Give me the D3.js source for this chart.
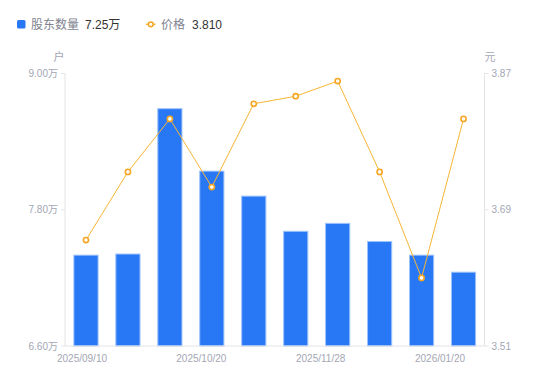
<!DOCTYPE html>
<html><head><meta charset="utf-8">
<script src="https://cdn.jsdelivr.net/npm/d3@7"></script>
<style>
body{margin:0;background:#fff;font-family:"Liberation Sans","Noto Sans CJK SC",Arial,sans-serif;}
svg{display:block;}
</style></head>
<body><svg id="c" width="550" height="381"></svg>
<script>
const categories = ["2025/09/10","2025/09/22","2025/09/30","2025/10/20","2025/10/31","2025/11/10","2025/11/28","2025/12/10","2025/12/31","2026/01/20"];
const holders = [7.40, 7.41, 8.69, 8.14, 7.92, 7.61, 7.68, 7.52, 7.40, 7.25];
const prices = [3.650, 3.740, 3.810, 3.720, 3.830, 3.840, 3.860, 3.740, 3.600, 3.810];
const xTickLabels = ["2025/09/10","2025/10/20","2025/11/28","2026/01/20"];
const leftTicks = [6.60, 7.80, 9.00];
const rightTicks = [3.51, 3.69, 3.87];

const svg = d3.select("#c");
const L = 65, R = 484.5, T = 73.5, B = 346;
const x = d3.scaleBand().domain(categories).range([L, R]).paddingInner(0.4).paddingOuter(0.2);
const yL = d3.scaleLinear().domain([6.6, 9.0]).range([B, T]);
const yR = d3.scaleLinear().domain([3.51, 3.87]).range([B, T]);
const xl = d3.scalePoint().domain(xTickLabels).range([82, 440]);

const axisCol = "#e3e4e8", txtCol = "#a3a6b4";

svg.append("line").attr("x1",L).attr("x2",L).attr("y1",T).attr("y2",B).attr("stroke",axisCol);
svg.append("line").attr("x1",R).attr("x2",R).attr("y1",T).attr("y2",B).attr("stroke",axisCol);

svg.append("g").selectAll("rect").data(holders).join("rect")
  .attr("x",(d,i)=>x(categories[i])+0.5).attr("width",x.bandwidth()-1)
  .attr("y",d=>yL(d)).attr("height",d=>B-yL(d))
  .attr("fill","#2878f5").attr("stroke","#9cc2fb").attr("stroke-width",1);

svg.append("line").attr("x1",L).attr("x2",R).attr("y1",B).attr("y2",B).attr("stroke",axisCol);

const gl = svg.append("g");
leftTicks.forEach(t=>{
  gl.append("line").attr("x1",L-4).attr("x2",L).attr("y1",yL(t)).attr("y2",yL(t)).attr("stroke",axisCol);
  gl.append("text").attr("x",L-7).attr("y",yL(t)).attr("dy","0.35em").attr("text-anchor","end")
    .attr("font-size",10).attr("fill",txtCol).text(t.toFixed(2)+"万");
});
const gr = svg.append("g");
rightTicks.forEach(t=>{
  gr.append("line").attr("x1",R).attr("x2",R+4).attr("y1",yR(t)).attr("y2",yR(t)).attr("stroke",axisCol);
  gr.append("text").attr("x",R+7).attr("y",yR(t)).attr("dy","0.35em").attr("text-anchor","start")
    .attr("font-size",10).attr("fill",txtCol).text(t.toFixed(2));
});
svg.append("text").attr("x",59).attr("y",61).attr("text-anchor","middle").attr("font-size",11).attr("fill",txtCol).text("户");
svg.append("text").attr("x",490).attr("y",61).attr("text-anchor","middle").attr("font-size",11).attr("fill",txtCol).text("元");

xTickLabels.forEach(l=>{
  svg.append("text").attr("x",xl(l)).attr("y",361.5).attr("text-anchor","middle")
    .attr("font-size",10).attr("fill",txtCol).text(l);
});

const lineCol = "#f7b534";
svg.append("path").datum(prices)
  .attr("d", d3.line().x((d,i)=>x(categories[i])+x.bandwidth()/2).y(d=>yR(d)))
  .attr("fill","none").attr("stroke",lineCol).attr("stroke-width",1);
svg.append("g").selectAll("circle").data(prices).join("circle")
  .attr("cx",(d,i)=>x(categories[i])+x.bandwidth()/2).attr("cy",d=>yR(d)).attr("r",2.6)
  .attr("fill","#fff").attr("stroke","#f5a623").attr("stroke-width",1.6);

svg.append("rect").attr("x",17).attr("y",20).attr("width",8.5).attr("height",8.5).attr("rx",1.5).attr("fill","#2878f5");
svg.append("text").attr("x",31).attr("y",28.5).attr("font-size",12).attr("fill","#80838f").text("股东数量");
svg.append("text").attr("x",85).attr("y",28.5).attr("font-size",12).attr("fill","#333").text(holders[holders.length-1].toFixed(2)+"万");
svg.append("line").attr("x1",146).attr("x2",155.5).attr("y1",24.3).attr("y2",24.3).attr("stroke",lineCol).attr("stroke-width",1.5);
svg.append("circle").attr("cx",150.8).attr("cy",24.3).attr("r",2.4).attr("fill","#fff").attr("stroke","#f5a623").attr("stroke-width",1.5);
svg.append("text").attr("x",161).attr("y",28.5).attr("font-size",12).attr("fill","#80838f").text("价格");
svg.append("text").attr("x",192).attr("y",28.5).attr("font-size",12).attr("fill","#333").text(prices[prices.length-1].toFixed(3));
</script></body></html>
